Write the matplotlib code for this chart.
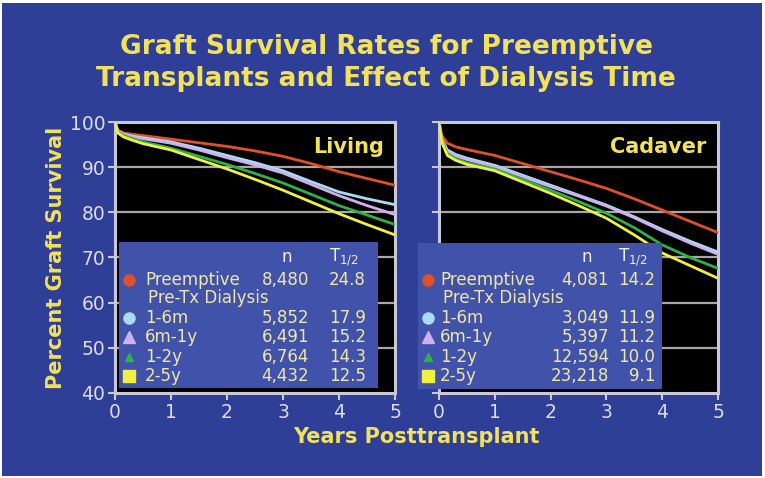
import matplotlib
matplotlib.use("Agg")
import matplotlib.pyplot as plt
from matplotlib.patches import Rectangle

# ---------------- data ----------------
years = [0, 0.05, 0.15, 0.3, 0.5, 1, 1.5, 2, 2.5, 3, 3.5, 4, 4.5, 5]

living = {
    "Preemptive": [100, 98.2, 97.6, 97.3, 97.0, 96.2, 95.4, 94.6, 93.6, 92.4, 90.8, 89.0, 87.5, 86.0],
    "1-6m":       [100, 98.0, 97.3, 96.9, 96.5, 95.6, 94.2, 92.6, 91.0, 89.2, 86.8, 84.5, 83.0, 81.7],
    "6m-1y":      [100, 98.0, 97.2, 96.8, 96.3, 95.3, 93.8, 92.1, 90.5, 88.7, 86.2, 83.7, 81.5, 79.5],
    "1-2y":       [100, 97.8, 97.0, 96.4, 95.6, 94.2, 92.4, 90.6, 88.6, 86.5, 84.0, 81.5, 79.4, 77.3],
    "2-5y":       [100, 97.6, 96.7, 96.0, 95.2, 93.8, 91.7, 89.6, 87.3, 84.9, 82.3, 79.7, 77.3, 75.0],
}
cadaver = {
    "Preemptive": [100, 97.0, 95.3, 94.5, 93.9, 92.6, 90.8, 89.0, 87.2, 85.3, 83.0, 80.5, 78.0, 75.5],
    "1-6m":       [100, 96.2, 93.8, 92.8, 92.0, 90.4, 88.2, 86.0, 83.8, 81.6, 79.0, 76.2, 73.6, 71.2],
    "6m-1y":      [100, 96.0, 93.5, 92.5, 91.7, 90.1, 87.9, 85.7, 83.6, 81.4, 78.8, 75.9, 73.2, 70.7],
    "1-2y":       [100, 95.8, 93.0, 91.9, 91.0, 89.6, 87.3, 84.9, 82.4, 79.8, 76.6, 72.8, 70.0, 67.6],
    "2-5y":       [100, 95.5, 92.6, 91.5, 90.6, 89.2, 86.7, 84.2, 81.5, 78.7, 75.0, 71.0, 68.2, 65.4],
}
groups = ["Preemptive", "1-6m", "6m-1y", "1-2y", "2-5y"]
living_n = ["8,480", "5,852", "6,491", "6,764", "4,432"]
living_t = ["24.8", "17.9", "15.2", "14.3", "12.5"]
cadaver_n = ["4,081", "3,049", "5,397", "12,594", "23,218"]
cadaver_t = ["14.2", "11.9", "11.2", "10.0", "9.1"]

title = "Graft Survival Rates for Preemptive\nTransplants and Effect of Dialysis Time"
xlabel = "Years Posttransplant"
ylabel = "Percent Graft Survival"
xticks = [0, 1, 2, 3, 4, 5]
yticks = [40, 50, 60, 70, 80, 90, 100]

# ---------------- style ----------------
W, H = 765, 478
BG = "#2f3e96"
BOX = "#4152aa"
YEL = "#f2e25a"
PALE = "#f0e8a8"
TICKC = "#dcdce4"
FRAME = "#c8c8d8"
colors = {"Preemptive": "#e0502a", "1-6m": "#a8dcf2", "6m-1y": "#d0b0ee",
          "1-2y": "#30b048", "2-5y": "#f0f040"}
markers = {"Preemptive": ("o", 8), "1-6m": ("o", 8), "6m-1y": ("^", 9),
           "1-2y": ("^", 6), "2-5y": ("s", 8)}

fig = plt.figure(figsize=(W / 100, H / 100), dpi=100)
fig.patch.set_facecolor("white")
fig.add_artist(Rectangle((2 / W, 2 / H), 1 - 5 / W, 1 - 5 / H,
                         transform=fig.transFigure, facecolor=BG, edgecolor="none", zorder=-10))


def fx(x):
    return x / W


def fy(y):
    return 1 - y / H


def make_axes(x0, x1, y0, y1, data, label, ns, ts, box, show_yticks):
    ax = fig.add_axes([fx(x0), fy(y1), fx(x1) - fx(x0), fy(y0) - fy(y1)])
    ax.set_facecolor("black")
    ax.set_xlim(0, 5)
    ax.set_ylim(40, 100)
    ax.set_xticks(xticks)
    ax.set_yticks(yticks)
    for y in [50, 60, 70, 80, 90]:
        ax.axhline(y, color="#a8a8a8", lw=1.6, zorder=1)
    for s in ax.spines.values():
        s.set_color(FRAME)
        s.set_linewidth(2.2)
    ax.tick_params(axis="both", colors=FRAME, length=5, width=1.5, direction="out",
                   labelsize=13.5, labelcolor=TICKC, pad=2)
    if not show_yticks:
        ax.set_yticklabels([])
    for g in groups:
        ax.plot(years, data[g], color=colors[g], lw=2.0, zorder=3, clip_on=True)
    ax.text(0.96, 0.945, label, transform=ax.transAxes, ha="right", va="top",
            color=YEL, fontsize=15, fontweight="bold")

    # legend box
    bx0, bx1, by0, by1, mx, lx, nx, tx = box
    fig.add_artist(Rectangle((fx(bx0), fy(by1)), fx(bx1) - fx(bx0), fy(by0) - fy(by1),
                             transform=fig.transFigure, facecolor=BOX, edgecolor="none", zorder=2))
    fs = 12
    fig.text(fx(nx - 22), fy(257), "n", color="#f0f0e0", fontsize=fs, ha="center", va="center", zorder=4)
    fig.text(fx(tx - 22), fy(257), "T$_{1/2}$", color="#f0f0e0", fontsize=fs, ha="center", va="center", zorder=4)
    rows_y = [280, 318, 337, 357, 376]
    fig.text(fx(lx + 3), fy(298), "Pre-Tx Dialysis", color=PALE, fontsize=fs, ha="left", va="center", zorder=4)
    for g, yy, n, t in zip(groups, rows_y, ns, ts):
        m, ms = markers[g]
        fig.add_artist(plt.Line2D([fx(mx)], [fy(yy)], marker=m, markersize=ms, color=colors[g],
                                  linestyle="none", transform=fig.transFigure, zorder=4))
        fig.text(fx(lx), fy(yy), g, color=PALE, fontsize=fs, ha="left", va="center", zorder=4)
        fig.text(fx(nx), fy(yy), n, color=PALE, fontsize=fs, ha="right", va="center", zorder=4)
        fig.text(fx(tx), fy(yy), t, color=PALE, fontsize=fs, ha="right", va="center", zorder=4)
    return ax


ax1 = make_axes(115, 395, 122, 393, living, "Living", living_n, living_t,
                (119, 378, 242, 388, 129, 145, 309, 366), True)
ax2 = make_axes(439, 718, 122, 393, cadaver, "Cadaver", cadaver_n, cadaver_t,
                (418, 662, 243, 389, 428, 440, 609, 655), False)

fig.text(fx(386), fy(63), title, ha="center", va="center", color=YEL, fontsize=19,
         fontweight="bold", linespacing=1.25)
fig.text(fx(416), fy(437), xlabel, ha="center", va="center", color=YEL, fontsize=15, fontweight="bold")
fig.text(fx(56), fy(258), ylabel, ha="center", va="center", color=YEL, fontsize=15,
         fontweight="bold", rotation=90)

fig.savefig("out.png", dpi=100, facecolor=fig.get_facecolor())
